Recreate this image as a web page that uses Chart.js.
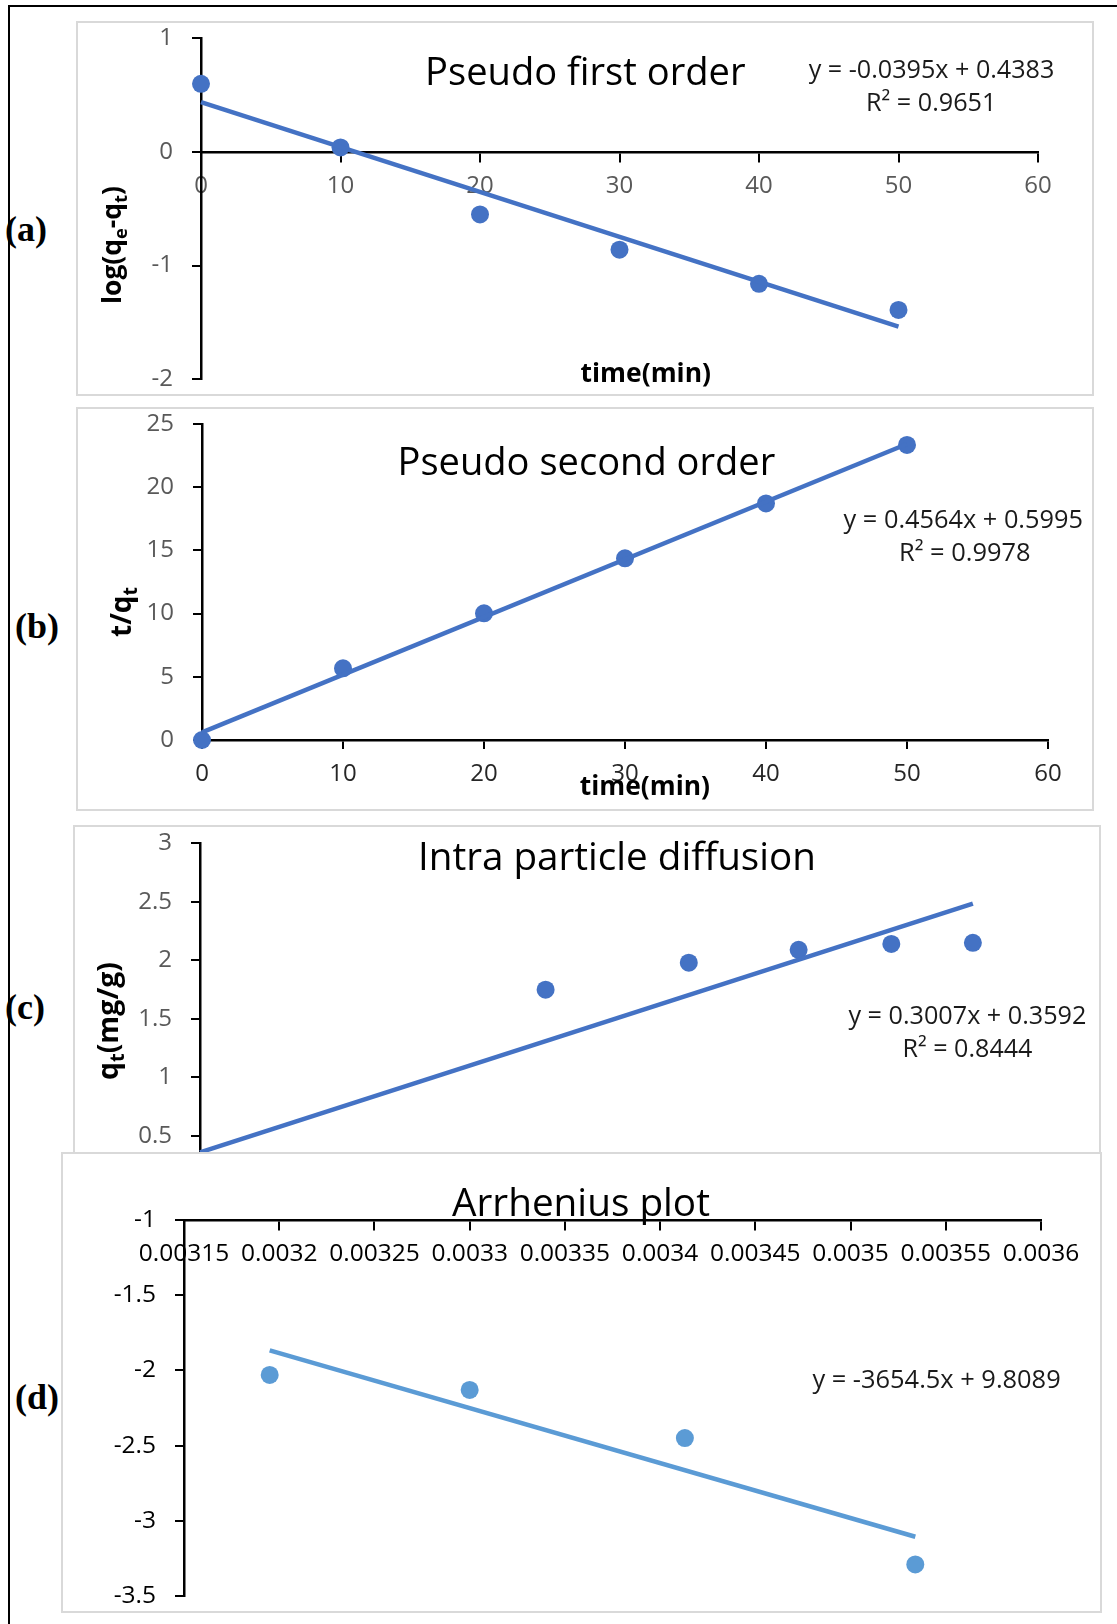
<!DOCTYPE html>
<html><head><meta charset="utf-8">
<script src="https://cdn.jsdelivr.net/npm/chart.js@4.4.1/dist/chart.umd.min.js"></script>
<style>
html,body{margin:0;padding:0;background:#fff;}
body{width:1117px;height:1624px;position:relative;overflow:hidden;}
canvas{position:absolute;}
.bg{background:#fff;}
.bord{position:absolute;border:2px solid #d9d9d9;box-sizing:border-box;pointer-events:none;}
.lab{position:absolute;font-family:"Liberation Serif",serif;font-weight:bold;font-size:36px;line-height:40px;color:#000;white-space:nowrap;}
.frameL{position:absolute;left:8px;top:5px;width:2px;height:1619px;background:#000;}
.frameT{position:absolute;left:8px;top:5px;width:1109px;height:2px;background:#000;}
</style></head><body>
<div class="lab" style="left:5px;top:209px">(a)</div>
<div class="lab" style="left:15px;top:606px">(b)</div>
<div class="lab" style="left:5px;top:987px">(c)</div>
<div class="lab" style="left:15px;top:1377px">(d)</div>
<canvas id="ca"></canvas><div class="bord" id="ba"></div>
<canvas id="cb"></canvas><div class="bord" id="bb"></div>
<canvas id="cc"></canvas><div class="bord" id="bc"></div>
<canvas id="cd" class="bg"></canvas><div class="bord" id="bd"></div>
<div class="frameL"></div><div class="frameT"></div>
<script>
// ---------------- data ----------------
const timeA = [0, 10, 20, 30, 40, 50];
const logQeQt = [0.60, 0.04, -0.55, -0.86, -1.16, -1.39];
const timeB = [0, 10, 20, 30, 40, 50];
const tOverQt = [0, 5.67, 10.02, 14.37, 18.72, 23.34];
const sqrtT = [0, 3.162, 4.472, 5.477, 6.325, 7.071];
const qt = [0, 1.75, 1.98, 2.09, 2.14, 2.15];
const invT = [0.003195, 0.0033, 0.003413, 0.003534];
const lnK = [-2.03, -2.13, -2.45, -3.29];
// trendline [slope, intercept] as printed on the chart
const fitA = [-0.0395, 0.4383];
const fitB = [0.4564, 0.5995];
const fitC = [0.3007, 0.3592];
const fitD = [-3654.5, 9.8089];
// tick values / labels
const ticksAX = [0, 10, 20, 30, 40, 50, 60];
const ticksAY = [-2, -1, 0, 1];
const ticksBX = [0, 10, 20, 30, 40, 50, 60];
const ticksBY = [0, 5, 10, 15, 20, 25];
const ticksCX = [0, 1, 2, 3, 4, 5, 6, 7, 8];
const ticksCY = [0, 0.5, 1, 1.5, 2, 2.5, 3];
const ticksDX = [0.00315, 0.0032, 0.00325, 0.0033, 0.00335, 0.0034, 0.00345, 0.0035, 0.00355, 0.0036];
const labelsDX = ['0.00315', '0.0032', '0.00325', '0.0033', '0.00335', '0.0034', '0.00345', '0.0035', '0.00355', '0.0036'];
const ticksDY = [-3.5, -3, -2.5, -2, -1.5, -1];
// texts
const titleA = 'Pseudo first order', titleB = 'Pseudo second order', titleC = 'Intra particle diffusion', titleD = 'Arrhenius plot';
const eqA = ['y = -0.0395x + 0.4383', 'R² = 0.9651'];
const eqB = ['y = 0.4564x + 0.5995', 'R² = 0.9978'];
const eqC = ['y = 0.3007x + 0.3592', 'R² = 0.8444'];
const eqD = ['y = -3654.5x + 9.8089'];
const xTitle = 'time(min)';

// ---------------- helpers ----------------
const BLUE = '#4472C4', LBLUE = '#5B9BD5';
const FAM = '"Open Sans", sans-serif';

function pts(xs, ys) { return xs.map((x, i) => ({x: x, y: ys[i]})); }
function trend(xs, fit) {
  const a = Math.min(...xs), b = Math.max(...xs);
  return [a, b].map(x => ({x: x, y: fit[0] * x + fit[1]}));
}

function drawItem(ctx, it, ox, oy) {
  const segs = it.segs || [{t: it.text}];
  const weight = it.bold ? 'bold ' : '';
  const fam = it.family || FAM;
  ctx.save();
  let w = 0;
  for (const s of segs) { ctx.font = weight + (s.sub ? 70 : 100) + 'px ' + fam; w += ctx.measureText(s.t).width; }
  const size = 100 * it.w / w;
  ctx.translate(it.x - ox, it.y - oy);
  if (it.rot) ctx.rotate(-Math.PI / 2);
  ctx.fillStyle = it.color || '#000';
  ctx.textBaseline = 'alphabetic';
  ctx.textAlign = 'left';
  let x = -it.w / 2;
  const base = size * (it.mid != null ? it.mid : 0.357);
  for (const s of segs) {
    const sz = s.sub ? size * 0.7 : size;
    ctx.font = weight + sz + 'px ' + fam;
    ctx.fillText(s.t, x, base + (s.sub ? size * 0.2 : 0));
    x += ctx.measureText(s.t).width;
  }
  ctx.restore();
}

function scale(o) {
  return {
    type: 'linear', min: o.min, max: o.max, position: o.position,
    title: {display: false},
    grid: {display: true, drawOnChartArea: false, drawTicks: true, tickLength: 9, tickWidth: 2, tickColor: '#000', color: '#000', lineWidth: 2},
    border: {display: true, color: '#000', width: 2.5},
    ticks: {autoSkip: false, maxRotation: 0, minRotation: 0, padding: o.pad, color: o.color,
      font: {family: FAM, size: o.size}, callback: (v, i) => o.labels[i]},
    afterBuildTicks: s => { s.ticks = o.values.map(v => ({value: v})); },
    afterFit: s => {
      if (o.fitW != null) s.width = o.fitW;
      if (o.fitH != null) s.height = o.fitH;
      s.paddingTop = 0; s.paddingBottom = 0; s.paddingLeft = 0; s.paddingRight = 0;
    }
  };
}

function build(id, bid, P) {
  const cv = document.getElementById(id);
  const [bl, bt, bw, bh] = P.box;
  cv.width = bw; cv.height = bh;
  cv.style.left = bl + 'px'; cv.style.top = bt + 'px';
  cv.style.width = bw + 'px'; cv.style.height = bh + 'px';
  const bd = document.getElementById(bid);
  bd.style.left = bl + 'px'; bd.style.top = bt + 'px';
  bd.style.width = bw + 'px'; bd.style.height = bh + 'px';
  const [al, at, ar, ab] = P.area;
  const Wy = 100, Hx = P.xObj ? 0 : 50;
  const pad = {left: al - bl - Wy, top: at - bt, right: bl + bw - ar, bottom: bt + bh - ab - Hx};
  const xs = scale(Object.assign({}, P.x, {fitH: P.xObj ? null : Hx}));
  const ys = scale(Object.assign({}, P.y, {position: 'left', fitW: Wy}));
  return new Chart(cv, {
    type: 'scatter',
    data: {datasets: [
      {data: P.trend, showLine: true, borderColor: P.color, borderWidth: 4.5, pointRadius: 0, fill: false, clip: false},
      {data: P.points, showLine: false, backgroundColor: P.color, borderColor: P.color, pointRadius: 9, pointBorderWidth: 0, clip: false}
    ]},
    options: {
      responsive: false, animation: false, devicePixelRatio: 1, events: [],
      layout: {padding: pad},
      plugins: {legend: {display: false}, tooltip: {enabled: false}, title: {display: false}},
      scales: {x: xs, y: ys}
    },
    plugins: [{id: 'txt' + id, afterDraw(c) { P.items.forEach(it => drawItem(c.ctx, it, bl, bt)); }}]
  });
}

const GRAY = '#595959';

// (a)
build('ca', 'ba', {
  box: [76, 21, 1018, 375], area: [201, 38.3, 1038, 379.3], xObj: true, color: BLUE,
  points: pts(timeA, logQeQt), trend: trend(timeA, fitA),
  x: {min: 0, max: 60, position: {y: 0}, values: ticksAX, labels: ticksAX.map(String), pad: 11, color: GRAY, size: 24},
  y: {min: -2, max: 1, values: ticksAY, labels: ticksAY.map(String), pad: 19, color: GRAY, size: 24},
  items: [
    {text: titleA, x: 585.3, y: 71.7, w: 320.5},
    {text: eqA[0], x: 931.6, y: 68.7, w: 245.8, color: '#1a1a1a'},
    {text: eqA[1], x: 931.2, y: 102, w: 130.4, color: '#1a1a1a'},
    {text: xTitle, x: 645.8, y: 373, w: 130.5, bold: true},
    {segs: [{t: 'log(q'}, {t: 'e', sub: true}, {t: '-q'}, {t: 't', sub: true}, {t: ')'}], x: 114, y: 245, w: 118, bold: true, rot: true, mid: 0.28}
  ]
});

// (b)
build('cb', 'bb', {
  box: [76, 407, 1018, 404], area: [202, 424, 1048, 740], xObj: false, color: BLUE,
  points: pts(timeB, tOverQt), trend: trend(timeB, fitB),
  x: {min: 0, max: 60, position: 'bottom', values: ticksBX, labels: ticksBX.map(String), pad: 10.5, color: '#262626', size: 24},
  y: {min: 0, max: 25, values: ticksBY, labels: ticksBY.map(String), pad: 19, color: GRAY, size: 24},
  items: [
    {text: titleB, x: 586.5, y: 461, w: 378},
    {text: eqB[0], x: 963.3, y: 518.7, w: 239.4, color: '#1a1a1a'},
    {text: eqB[1], x: 964.8, y: 552, w: 131.7, color: '#1a1a1a'},
    {text: xTitle, x: 645, y: 786, w: 130.3, bold: true},
    {segs: [{t: 't/q'}, {t: 't', sub: true}], x: 123, y: 612, w: 50, bold: true, rot: true, mid: 0.3}
  ]
});

// (c)
build('cc', 'bc', {
  box: [73, 825, 1028, 440], area: [200, 843.3, 1074.4, 1194.5], xObj: false, color: BLUE,
  points: pts(sqrtT, qt), trend: trend(sqrtT, fitC),
  x: {min: 0, max: 8, position: 'bottom', values: ticksCX, labels: ticksCX.map(String), pad: 10.5, color: GRAY, size: 24},
  y: {min: 0, max: 3, values: ticksCY, labels: ticksCY.map(String), pad: 19, color: GRAY, size: 24},
  items: [
    {text: titleC, x: 617, y: 856.7, w: 398},
    {text: eqC[0], x: 967.5, y: 1015, w: 238.2, color: '#1a1a1a'},
    {text: eqC[1], x: 967.5, y: 1048.3, w: 130, color: '#1a1a1a'},
    {segs: [{t: 'q'}, {t: 't', sub: true}, {t: '(mg/g)'}], x: 110, y: 1021, w: 118, bold: true, rot: true, mid: 0.28}
  ]
});

// (d)
build('cd', 'bd', {
  box: [61, 1152, 1041, 461], area: [184, 1220, 1041, 1596], xObj: true, color: LBLUE,
  points: pts(invT, lnK), trend: trend(invT, fitD),
  x: {min: 0.00315, max: 0.0036, position: {y: -1}, values: ticksDX, labels: labelsDX, pad: 10, color: '#000', size: 24.5},
  y: {min: -3.5, max: -1, values: ticksDY, labels: ticksDY.map(String), pad: 19, color: '#000', size: 24.5},
  items: [
    {text: titleD, x: 581, y: 1202, w: 258},
    {text: eqD[0], x: 936.6, y: 1378.7, w: 248.4, color: '#1a1a1a'}
  ]
});
</script>
</body></html>
